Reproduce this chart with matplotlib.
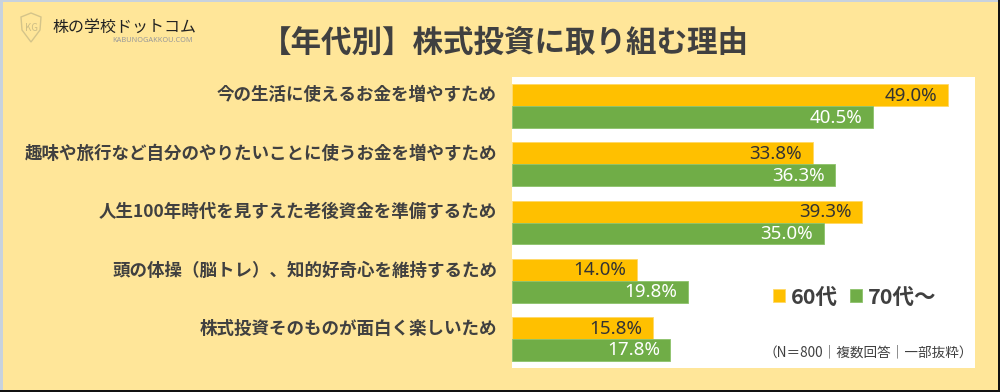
import matplotlib
matplotlib.use("Agg")
import matplotlib.pyplot as plt
import matplotlib.patches as patches
import numpy as np

plt.rcParams['font.family'] = ['Noto Sans CJK JP', 'DejaVu Sans']

# data
reasons = [
    "今の生活に使えるお金を増やすため",
    "趣味や旅行など自分のやりたいことに使うお金を増やすため",
    "人生100年時代を見すえた老後資金を準備するため",
    "頭の体操（脳トレ）、知的好奇心を維持するため",
    "株式投資そのものが面白く楽しいため",
]
age60 = [49.0, 33.8, 39.3, 14.0, 15.8]
age70 = [40.5, 36.3, 35.0, 19.8, 17.8]
series_names = ["60代", "70代～"]

BG = "#FFE699"
ORANGE = "#FFC000"
GREEN = "#70AD47"
TXT = "#404040"

fig = plt.figure(figsize=(10, 3.92), dpi=100, facecolor=BG)

# frame strips
fig.patches.append(patches.Rectangle((0, 0), 0.003, 1, transform=fig.transFigure,
                                     facecolor="#C8D2DE", edgecolor="none", zorder=0))
fig.patches.append(patches.Rectangle((0, 0.995), 1, 0.005, transform=fig.transFigure,
                                     facecolor="#C8D2DE", edgecolor="none", zorder=0))
fig.patches.append(patches.Rectangle((0.998, 0), 0.002, 1, transform=fig.transFigure,
                                     facecolor="#111111", edgecolor="none", zorder=0))
fig.patches.append(patches.Rectangle((0, 0), 1, 0.006, transform=fig.transFigure,
                                     facecolor="#111111", edgecolor="none", zorder=0))

ax = fig.add_axes([0.512, 1 - 368 / 392, 0.463, 291 / 392])
ax.set_facecolor("white")
for s in ax.spines.values():
    s.set_visible(False)
ax.set_xticks([])
ax.set_yticks([])

y = np.arange(len(reasons))
h = 0.375
b1 = ax.barh(y - h / 2, age60, height=h, color=ORANGE, edgecolor="#FFD966", linewidth=0.6)
b2 = ax.barh(y + h / 2, age70, height=h, color=GREEN, edgecolor="#8CC26A", linewidth=0.6)
ax.set_xlim(0, 52)
ax.set_ylim(len(reasons) - 0.5, -0.5)

for i, (a, b) in enumerate(zip(age60, age70)):
    ax.text(a - 1.2, i - h / 2 + 0.01, f"{a:.1f}%", ha="right", va="center",
            fontsize=13.5, color="#333333", family=['Noto Sans', 'DejaVu Sans'])
    ax.text(b - 1.2, i + h / 2 + 0.01, f"{b:.1f}%", ha="right", va="center",
            fontsize=13.5, color="white", family=['Noto Sans', 'DejaVu Sans'])

for i, r in enumerate(reasons):
    fig.text(0.497, 1 - (106 + 58.5 * i) / 392 + 0.028, r, ha="right", va="center",
             fontsize=12.6, fontweight="bold", color=TXT)

# legend
leg = ax.legend([b1, b2], series_names, loc="center", bbox_to_anchor=(0.74, 0.244),
                ncol=2, frameon=False, handlelength=0.55, handleheight=0.55,
                handletextpad=0.25, columnspacing=0.6,
                prop={'family': ['Noto Sans CJK JP', 'DejaVu Sans'], 'weight': 'bold', 'size': 15.5})
for t in leg.get_texts():
    t.set_color(TXT)

ax.text(0.995, 0.055, "（N＝800｜複数回答｜一部抜粋）", transform=ax.transAxes,
        ha="right", va="center", fontsize=9.8, color=TXT)

# title
fig.text(0.505, 1 - 43 / 392, "【年代別】株式投資に取り組む理由", ha="center", va="center",
         fontsize=22, fontweight="bold", color=TXT)

# logo
fig.patches.append(patches.Polygon(
    [(21 / 1000, 1 - 17 / 392), (31 / 1000, 1 - 13 / 392), (41 / 1000, 1 - 17 / 392),
     (40 / 1000, 1 - 30 / 392), (31 / 1000, 1 - 42 / 392), (22 / 1000, 1 - 30 / 392)],
    closed=True, transform=fig.transFigure, facecolor="none", edgecolor="#D4C48A", linewidth=1.0))
fig.text(0.031, 1 - 28 / 392, "KG", ha="center", va="center", fontsize=7, color="#CDBE86")
fig.text(0.052, 1 - 27 / 392, "株の学校ドットコム", ha="left", va="center",
         fontsize=11.5, color="#222222")
fig.text(0.193, 1 - 40 / 392, "KABUNOGAKKOU.COM", ha="right", va="center",
         fontsize=5.3, color="#999999", family=['Noto Sans', 'DejaVu Sans'])

fig.savefig("out.png", dpi=100, facecolor=BG)
